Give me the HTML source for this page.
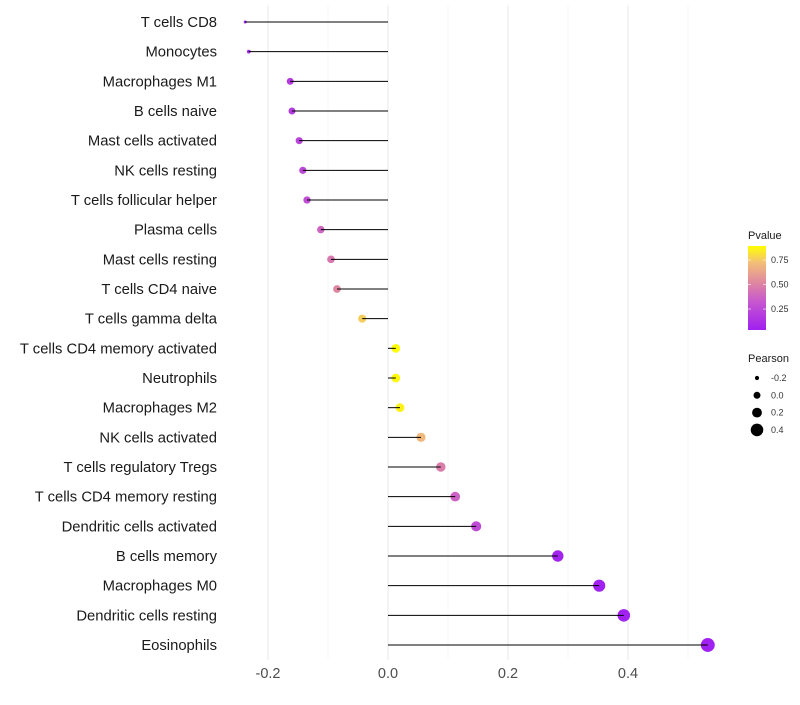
<!DOCTYPE html>
<html><head><meta charset="utf-8"><style>
body{margin:0;background:#fff;font-family:"Liberation Sans",sans-serif}
</style></head><body>
<svg id="chart" width="800" height="700" xmlns="http://www.w3.org/2000/svg" font-family="Liberation Sans, sans-serif"></svg>
<script>
const categories=["T cells CD8","Monocytes","Macrophages M1","B cells naive","Mast cells activated","NK cells resting","T cells follicular helper","Plasma cells","Mast cells resting","T cells CD4 naive","T cells gamma delta","T cells CD4 memory activated","Neutrophils","Macrophages M2","NK cells activated","T cells regulatory  Tregs","T cells CD4 memory resting","Dendritic cells activated","B cells memory","Macrophages M0","Dendritic cells resting","Eosinophils"];
const pearson=[-0.238,-0.232,-0.163,-0.160,-0.148,-0.142,-0.135,-0.112,-0.095,-0.085,-0.043,0.013,0.013,0.020,0.055,0.088,0.112,0.147,0.283,0.352,0.393,0.533];
const pvalues=[0.04,0.06,0.17,0.18,0.22,0.24,0.27,0.38,0.46,0.52,0.76,0.89,0.88,0.86,0.70,0.48,0.37,0.26,0.05,0.04,0.04,0.04];
const xTicks=[-0.2,0,0.2,0.4];
const xTickLabels=["-0.2","0.0","0.2","0.4"];
const xMinor=[-0.1,0.1,0.3,0.5];
const legendP=[0.75,0.50,0.25];
const legendPLabels=["0.75","0.50","0.25"];
const legendSize=[-0.2,0,0.2,0.4];
const legendSizeLabels=["-0.2","0.0","0.2","0.4"];

const svg=document.getElementById('chart');
const NS="http://www.w3.org/2000/svg";
const x=v=>388+v*600;
const y=i=>22+i*(623/21);
const pMin=0.036,pMax=0.893;
const rOf=v=>v<-0.2?Math.max(1.3,1.5+(v+0.238)*60):4.3+5*v;
function lerp(a,b,t){return a.map((c,i)=>Math.round(c+(b[i]-c)*t));}
const stopsT=[0,0.35,0.55,0.8,1];
const stopsC=[[160,32,240],[200,90,205],[222,132,162],[242,190,120],[255,255,0]];
function colorOf(p){
  let t=(p-pMin)/(pMax-pMin);t=Math.max(0,Math.min(1,t));
  let k=0;while(k<stopsT.length-2&&t>stopsT[k+1])k++;
  const c=lerp(stopsC[k],stopsC[k+1],(t-stopsT[k])/(stopsT[k+1]-stopsT[k]));
  return `rgb(${c[0]},${c[1]},${c[2]})`;
}
function el(tag,attrs,parent){const e=document.createElementNS(NS,tag);for(const k in attrs)e.setAttribute(k,attrs[k]);(parent||svg).appendChild(e);return e;}

xMinor.forEach(v=>{const l=el('line',{x1:x(v),x2:x(v),y1:5,y2:660,stroke:'#f2f2f2','stroke-width':0.6});

});
xTicks.forEach((v,i)=>{const l=el('line',{x1:x(v),x2:x(v),y1:5,y2:660,stroke:'#ebebeb','stroke-width':1.1});


const t=el('text',{x:x(v),y:678,'text-anchor':'middle','font-size':14.5,fill:'#4d4d4d'});t.textContent=xTickLabels[i];

});

categories.forEach((c,i)=>{
  const t=el('text',{x:217,y:y(i)+5,'text-anchor':'end','font-size':14.8,fill:'#1a1a1a'});t.textContent=c;
  
  
  const d=el('circle',{cx:x(pearson[i]),cy:y(i),r:rOf(pearson[i]),fill:colorOf(pvalues[i])});
  
  
  const s=el('line',{x1:x(0),x2:x(pearson[i]),y1:y(i),y2:y(i),stroke:'#000','stroke-width':1});
  
  
});

const g1=el('g',{});


const tt=el('text',{x:748,y:239,'font-size':11,fill:'#1a1a1a'},g1);tt.textContent='Pvalue';
const defs=el('defs',{});
const gr=el('linearGradient',{id:'pg',x1:0,y1:1,x2:0,y2:0},defs);
[0,0.2,0.35,0.45,0.55,0.7,0.8,0.9,1].forEach(o=>el('stop',{offset:o,'stop-color':colorOf(pMin+o*(pMax-pMin))},gr));
el('rect',{x:748,y:246,width:18,height:84,fill:'url(#pg)'},g1);
legendP.forEach((p,i)=>{const yy=330-(p-pMin)/(pMax-pMin)*84;
el('line',{x1:748,x2:751,y1:yy,y2:yy,stroke:'#fff','stroke-width':0.6},g1);
el('line',{x1:763,x2:766,y1:yy,y2:yy,stroke:'#fff','stroke-width':0.6},g1);
const t=el('text',{x:771,y:yy+3,'font-size':9,fill:'#333'},g1);t.textContent=legendPLabels[i];});

const g2=el('g',{});


const pt=el('text',{x:748,y:362,'font-size':11,fill:'#1a1a1a'},g2);pt.textContent='Pearson';
const legR=v=>3+v*7;
legendSize.forEach((v,i)=>{const yy=378+i*17.3;
el('circle',{cx:757,cy:yy,r:legR(v)+0.5,fill:'#000'},g2);
const t=el('text',{x:771,y:yy+3,'font-size':9,fill:'#333'},g2);t.textContent=legendSizeLabels[i];});
</script>
</body></html>
